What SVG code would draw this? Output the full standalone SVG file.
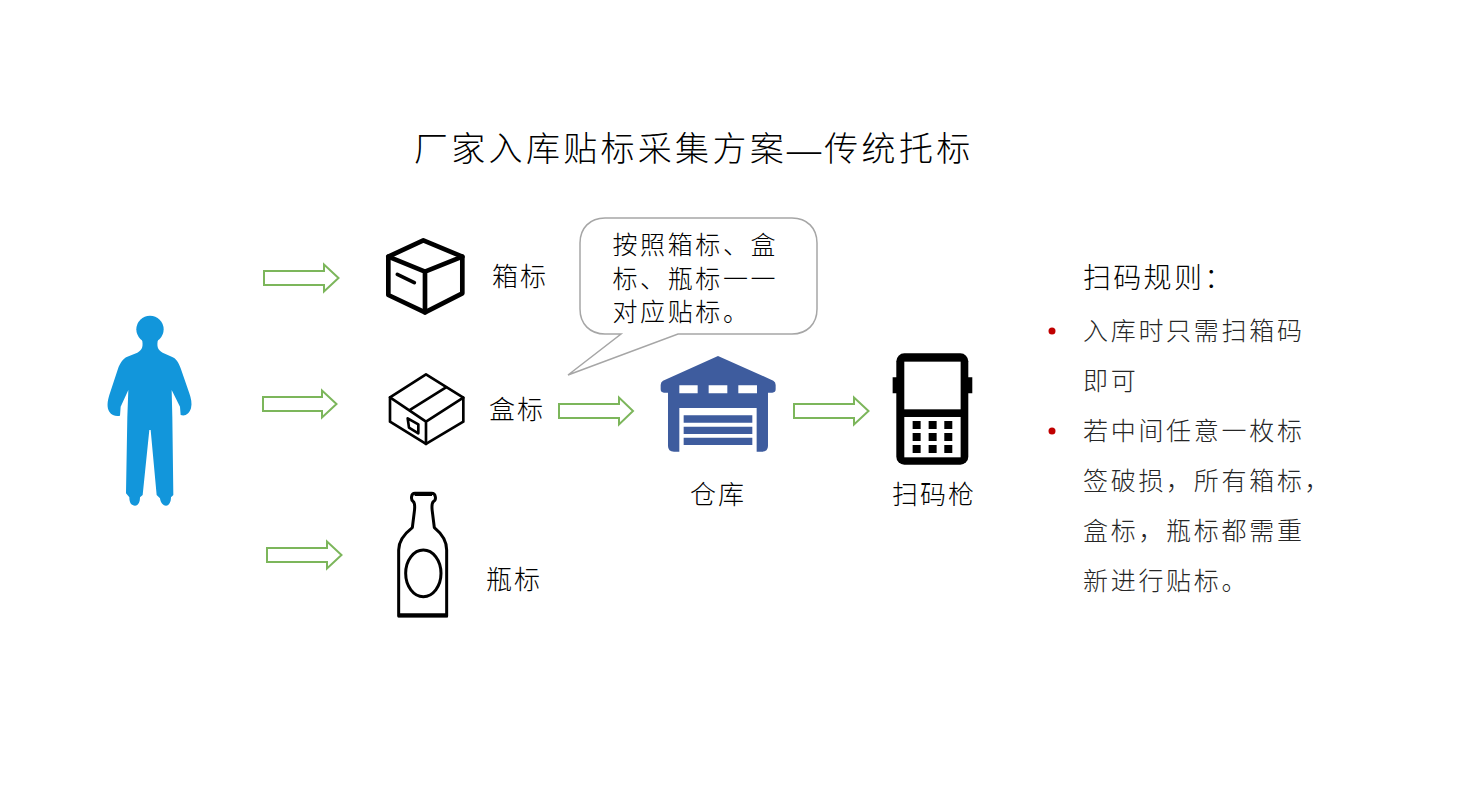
<svg xmlns="http://www.w3.org/2000/svg" width="1459" height="811" viewBox="0 0 1459 811">
<style>
text{font-family:"Noto Sans CJK SC","Liberation Sans",sans-serif;fill:#000;font-weight:300}
.l{font-size:26px;letter-spacing:2px}
.c{font-size:25px;letter-spacing:2.600px}
.r{font-size:25px;letter-spacing:2.700px;fill:#262626}
.b{fill:#c00000}
.a{fill:#fff;stroke:#7cb65b;stroke-width:2}
.k{fill:none;stroke:#000;stroke-linejoin:round;stroke-linecap:round}
</style>
<rect width="1459" height="811" fill="#fff"/>
<text id="title" x="414" y="161" font-size="34" letter-spacing="3.300">厂家入库贴标采集方案<tspan font-family="Liberation Serif">—</tspan>传统托标</text>
<g id="connectors">
<path class="a" d="M264 271H324V264.500L338.500 278L324 291.500V285H264Z"/>
<path class="a" d="M263 397H322V390.500L336.500 404L322 417.500V411H263Z"/>
<path class="a" d="M267 548H327V541.500L341.500 555L327 568.500V562H267Z"/>
<path class="a" d="M559 404H619V397.500L633 411L619 424.500V418H559Z"/>
<path class="a" d="M794 404H854V397.500L868.500 411L854 424.500V418H794Z"/>
</g>
<g id="person" transform="translate(90 300) scale(.3333)">
<circle cx="180" cy="88" r="41" fill="#1296db"/>
<path fill="#1296db" d="M156 118C160 138 158 150 142 158L112 170C98 176 90 190 84 206L58 285C52 305 50 322 58 335C65 347 80 350 90 347L92 320L115 270L112 350L108 580L118 592C118 610 125 617 135 617C146 617 150 605 150 592L158 585L178 390H182L200 585L210 595C212 610 220 617 228 617C238 617 243 605 243 592L250 585L247 350L245 270L270 320L272 345C285 350 298 342 303 325C307 310 303 295 298 280L272 205C265 185 258 175 245 170L218 158C202 150 200 138 204 118Z"/>
</g>
<g id="box-carton" transform="translate(370 225) scale(.3333)">
<path class="k" stroke-width="14" d="M160 46L277 95V205L165 262L55 210V95Z"/>
<path class="k" stroke-width="14" d="M55 95L165 140L277 95M165 140V262"/>
<path class="k" stroke-width="11" d="M82 148L133 173"/>
</g>
<text id="label-carton" class="l" x="492" y="286">箱标</text>
<g id="box-small" transform="translate(370 225) scale(.3333)">
<path class="k" stroke-width="8" d="M168 448L280 518V590L168 657L60 590V517Z"/>
<path class="k" stroke-width="8" d="M60 517L168 590L280 518M168 590V657M120 555L228 487"/>
<path class="k" stroke-width="8" d="M113 580L145 598V625L117 608Z"/>
</g>
<text id="label-small" class="l" x="489" y="419">盒标</text>
<g id="bottle" transform="translate(380 480) scale(.3333)">
<path class="k" stroke-width="9" d="M105 40H155C168 40 170 60 160 65C155 70 155 80 157 95L163 143C190 165 200 185 200 210V408H56V210C56 180 75 160 97 143L103 95C105 80 105 70 100 65C92 60 92 40 105 40Z"/>
<path fill="#000" d="M104 36H156V48H104ZM54 400H204V412H54Z"/>
<ellipse class="k" stroke-width="9" cx="130" cy="280" rx="53" ry="70"/>
</g>
<text id="label-bottle" class="l" x="486" y="589">瓶标</text>
<g id="callout">
<path fill="#fff" stroke="#a6a6a6" stroke-width="1.500" d="M605 218H792C807 218 817 228 817 243V309C817 324 807 334 792 334H678L568 375L621 334H605C590 334 580 324 580 309V243C580 228 590 218 605 218Z"/>
<text class="c" x="612.500" y="254">按照箱标、盒</text>
<text class="c" x="612.500" y="288">标、瓶标一一</text>
<text class="c" x="612.500" y="321">对应贴标。</text>
</g>
<g id="warehouse" transform="translate(640 340) scale(.3333)">
<path fill="#3e5c9e" d="M234 48L400 122Q407 126 407 135V148Q407 158 397 158H384V318Q384 335 366 335H350V204H118V335H102Q84 335 84 318V158H72Q62 158 62 148V135Q62 126 69 122Z"/>
<path fill="#fff" d="M118 136H173V160H118ZM206 136H262V160H206ZM295 136H351V160H295Z"/>
<path fill="#3e5c9e" d="M131 226H337V248H131ZM131 260H337V282H131ZM131 293H337V315H131Z"/>
</g>
<text id="label-warehouse" class="l" x="690" y="504">仓库</text>
<g id="scanner" transform="translate(640 340) scale(.3333)">
<path fill="#000" d="M758 112H772V160H758ZM983 112H997V160H983Z"/>
<rect x="769" y="40" width="216" height="334" rx="24" fill="#000"/>
<rect x="793" y="65" width="169" height="143" fill="#fff"/>
<rect x="793" y="231" width="169" height="121" fill="#fff"/>
<path fill="#000" d="M818 243H842V267H818ZM866 243H890V267H866ZM913 243H937V267H913ZM818 279H842V303H818ZM866 279H890V303H866ZM913 279H937V303H913ZM818 315H842V339H818ZM866 315H890V339H866ZM913 315H937V339H913Z"/>
</g>
<text id="label-scanner" class="l" x="892" y="504">扫码枪</text>
<g id="rules">
<text x="1083" y="288" font-size="28" letter-spacing="2.300">扫码规则：</text>
<circle class="b" cx="1052" cy="331" r="3.500"/>
<text class="r" x="1083" y="339.500">入库时只需扫箱码</text>
<text class="r" x="1083" y="389.500">即可</text>
<circle class="b" cx="1052" cy="431" r="3.500"/>
<text class="r" x="1083" y="439.500">若中间任意一枚标</text>
<text class="r" x="1083" y="489.500">签破损，所有箱标，</text>
<text class="r" x="1083" y="539.500">盒标，瓶标都需重</text>
<text class="r" x="1083" y="589.500">新进行贴标。</text>
</g>
</svg>
